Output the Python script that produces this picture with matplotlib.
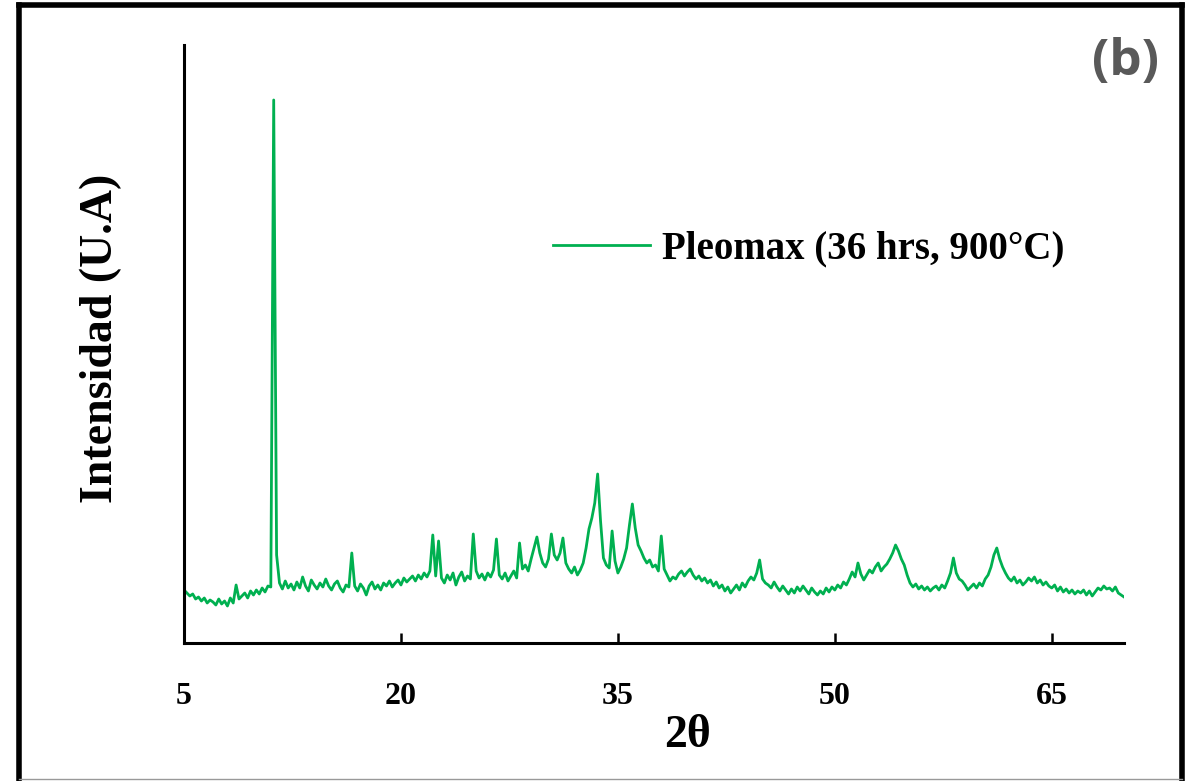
import numpy as np
import matplotlib.pyplot as plt
from matplotlib.lines import Line2D

# difractograma (b): 2theta de 5 a 70 cada 0.2 grados
dosTheta = np.round(np.arange(5.0, 70.01, 0.2), 1)
intensidad = [
    53, 50, 47, 49, 44, 46, 42, 45, 40, 43,
    41, 38, 44, 39, 42, 37, 45, 40, 58, 44,
    47, 50, 45, 52, 48, 53, 49, 55, 51, 57,
    56, 543, 88, 60, 54, 62, 55, 59, 53, 61,
    55, 66, 57, 52, 63, 58, 54, 60, 56, 64,
    57, 53, 59, 62, 55, 51, 58, 56, 90, 57,
    52, 59, 55, 48, 57, 61, 54, 58, 53, 60,
    57, 62, 56, 60, 63, 58, 65, 61, 64, 67,
    62, 68, 64, 70, 66, 72, 108, 67, 102, 65,
    60, 68, 63, 70, 58, 66, 71, 62, 67, 64,
    109, 72, 65, 69, 63, 70, 66, 73, 104, 68,
    64, 70, 62, 67, 72, 65, 100, 74, 78, 72,
    84, 95, 106, 90, 80, 76, 84, 109, 88, 83,
    90, 105, 80, 74, 70, 76, 68, 73, 80, 95,
    114, 125, 140, 169, 122, 85, 78, 75, 112, 82,
    70, 76, 84, 95, 118, 139, 115, 98, 92, 85,
    80, 83, 76, 78, 72, 107, 74, 68, 62, 66,
    64, 69, 72, 67, 71, 74, 68, 64, 67, 62,
    65, 60, 63, 57, 61, 55, 58, 52, 56, 50,
    54, 58, 53, 60, 56, 62, 66, 63, 70, 83,
    64, 60, 58, 55, 61, 56, 52, 57, 53, 49,
    54, 50, 56, 52, 57, 53, 49, 55, 51, 48,
    52, 49, 55, 51, 56, 53, 58, 55, 61, 58,
    64, 71, 66, 80, 69, 63, 68, 73, 70, 76,
    80, 72, 76, 79, 84, 90, 98, 92, 84, 78,
    68, 60, 56, 59, 54, 57, 53, 56, 52, 55,
    57, 53, 58, 55, 62, 70, 85, 70, 64, 62,
    58, 53, 56, 59, 55, 60, 57, 64, 68, 76,
    88, 95, 84, 76, 70, 65, 62, 66, 60, 63,
    58, 61, 65, 62, 66, 60, 63, 58, 61, 57,
    55, 58, 52, 56, 51, 54, 50, 53, 49, 52,
    50, 53, 48, 52, 47, 51, 55, 53, 57, 54,
    55, 52, 56, 50, 48, 46,
]
ticksX = [5, 20, 35, 50, 65]
etiqueta = "Pleomax (36 hrs, 900°C)"

verde = "#00B050"
serif = ["Liberation Serif", "DejaVu Serif"]

fig = plt.figure(figsize=(11.92, 7.81), dpi=100)
ax = fig.add_axes([0.1544, 0.1767, 0.7886, 0.7657])

ax.plot(dosTheta, intensidad, color=verde, lw=2.0, label=etiqueta)
ax.set_xlim(5, 70)
ax.set_ylim(0, 598)

ax.spines["top"].set_visible(False)
ax.spines["right"].set_visible(False)
ax.spines["left"].set_linewidth(2.2)
ax.spines["bottom"].set_linewidth(2.2)
ax.set_yticks([])
ax.set_xticks(ticksX)
ax.tick_params(axis="x", direction="in", length=7, width=1.8, pad=28)
for t in ax.get_xticklabels():
    t.set_fontfamily(serif)
    t.set_fontweight("bold")
    t.set_fontsize(23)

ax.set_xlabel("2θ", fontfamily=serif, fontweight="bold", fontsize=33)
ax.xaxis.set_label_coords(0.536, -0.12)
ax.set_ylabel("Intensidad (U.A)", fontfamily=serif, fontweight="bold", fontsize=33)
ax.yaxis.set_label_coords(-0.066, 0.51)

leg = ax.legend(loc="center left", bbox_to_anchor=(0.3926, 0.659), frameon=False,
                borderpad=0, borderaxespad=0, handlelength=2.5, handletextpad=0.3,
                prop={"family": serif, "weight": "bold", "size": 28})

fig.text(0.944, 0.92, "(b)", color="#595959", fontfamily="Open Sans",
         fontweight="bold", fontsize=37, ha="center", va="center")

# marco exterior
grosor = 4
fig.add_artist(Line2D([0.016, 0.016], [0.0, 0.993], color="black", lw=grosor))
fig.add_artist(Line2D([0.992, 0.992], [0.0, 0.993], color="black", lw=grosor))
fig.add_artist(Line2D([0.016, 0.992], [0.993, 0.993], color="black", lw=grosor))
fig.add_artist(Line2D([0.016, 0.992], [0.002, 0.002], color="#999999", lw=1))

fig.savefig("out.png", dpi=100)
